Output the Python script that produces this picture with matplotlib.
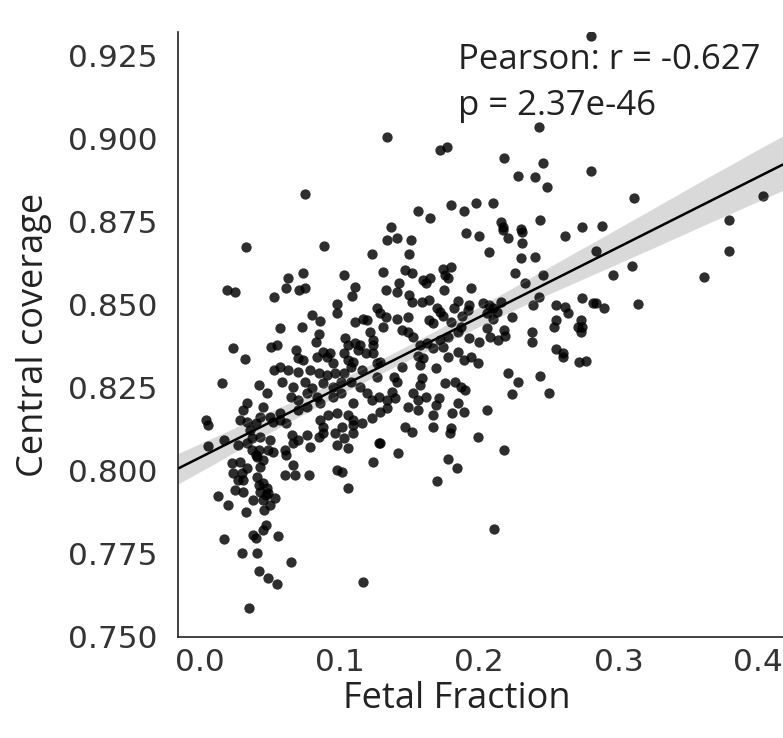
import matplotlib
matplotlib.use("Agg")
import matplotlib.pyplot as plt
import seaborn as sns
import numpy as np

# fetal fraction / central coverage pairs
fetal_fraction = [
    # low FF cloud, upper part
    0.033, 0.089, 0.123, 0.074, 0.063, 0.103, 0.019, 0.025, 0.062, 0.071,
    0.075, 0.111, 0.109, 0.053, 0.098, 0.098, 0.080, 0.086, 0.111, 0.117,
    0.120, 0.127, 0.057, 0.073, 0.085, 0.083, 0.104, 0.122, 0.124, 0.024,
    0.032, 0.051, 0.055, 0.069, 0.070, 0.074, 0.084, 0.088, 0.091, 0.093,
    0.095, 0.106, 0.111, 0.115, 0.113, 0.119, 0.124, 0.103, 0.106, 0.110,
    0.124, 0.127, 0.053, 0.057, 0.063, 0.070, 0.079, 0.085, 0.091, 0.097,
    0.103, 0.108, 0.116, 0.127, 0.016, 0.042, 0.048, 0.059, 0.067, 0.075,
    0.080, 0.088, 0.095, 0.101, 0.108, 0.115, 0.065, 0.070, 0.077, 0.084,
    0.086, 0.095, 0.101, 0.110, 0.120, 0.123, 0.128, 0.034, 0.031, 0.045,
    0.043, 0.050, 0.057, 0.070, 0.077, 0.092, 0.098, 0.106, 0.110, 0.116,
    0.123, 0.004, 0.006, 0.029, 0.034, 0.040, 0.052, 0.057, 0.062, 0.086,
    0.088, 0.102, 0.110,
    # middle FF
    0.191, 0.200, 0.217, 0.221, 0.231, 0.231, 0.262, 0.134, 0.141, 0.151,
    0.207, 0.150, 0.230, 0.240, 0.131, 0.147, 0.152, 0.174, 0.180, 0.176,
    0.178, 0.160, 0.165, 0.162, 0.226, 0.246, 0.233, 0.133, 0.141, 0.143,
    0.150, 0.152, 0.159, 0.164, 0.170, 0.172, 0.175, 0.194, 0.243, 0.239,
    0.185, 0.182, 0.192, 0.193, 0.203, 0.207, 0.210, 0.216, 0.255, 0.262,
    0.264, 0.129, 0.133, 0.131, 0.141, 0.149, 0.164, 0.174, 0.167, 0.188,
    0.187, 0.180, 0.206, 0.213, 0.210, 0.224, 0.255, 0.254, 0.145, 0.149,
    0.153, 0.158, 0.163, 0.172, 0.178, 0.185, 0.193, 0.200, 0.206, 0.208,
    0.218, 0.219, 0.214, 0.238, 0.238, 0.271, 0.156, 0.160, 0.167, 0.174,
    0.178, 0.185, 0.189, 0.194, 0.199, 0.255, 0.260, 0.260, 0.272, 0.129,
    0.145, 0.158, 0.169, 0.221, 0.228, 0.244, 0.139, 0.141, 0.138, 0.140,
    0.134, 0.159, 0.158, 0.153, 0.156, 0.162, 0.176, 0.183, 0.187, 0.190,
    0.185, 0.224, 0.250, 0.149, 0.156, 0.169, 0.171, 0.167, 0.181, 0.189,
    0.206, 0.129, 0.134, 0.147, 0.167, 0.180,
    # high FF
    0.280, 0.311, 0.404, 0.379, 0.274, 0.288, 0.284, 0.379, 0.310, 0.296,
    0.361, 0.274, 0.282, 0.284, 0.290, 0.314, 0.273, 0.274, 0.273, 0.277,
    # low FF cloud, lower part
    0.006, 0.017, 0.027, 0.034, 0.037, 0.036, 0.043, 0.050, 0.049, 0.052,
    0.042, 0.041, 0.045, 0.043, 0.037, 0.040, 0.023, 0.029, 0.034, 0.024,
    0.027, 0.030, 0.031, 0.025, 0.031, 0.041, 0.042, 0.045, 0.048, 0.049,
    0.043, 0.047, 0.038, 0.045, 0.054, 0.013, 0.020, 0.033, 0.046, 0.050,
    0.061, 0.062, 0.067, 0.070, 0.066, 0.077, 0.079, 0.085, 0.088, 0.067,
    0.061, 0.068, 0.078, 0.097, 0.098, 0.103, 0.106, 0.110, 0.098, 0.102,
    0.106, 0.124, 0.128, 0.047, 0.045, 0.038, 0.040, 0.056, 0.017, 0.030,
    0.041, 0.065, 0.042, 0.049, 0.055, 0.035, 0.117,
    # middle FF, lower part
    0.129, 0.142, 0.152, 0.179, 0.199, 0.218, 0.178, 0.184, 0.170, 0.211,
    # upper band
    0.243, 0.134, 0.172, 0.177, 0.218, 0.246, 0.228, 0.240, 0.249, 0.156,
    0.165, 0.180, 0.189, 0.198, 0.210, 0.216, 0.217, 0.230, 0.244, 0.137,
    0.075, 0.280,
]

central_coverage = [
    0.8675, 0.8678, 0.8654, 0.8596, 0.8581, 0.8590, 0.8545, 0.8539, 0.8551, 0.8545,
    0.8551, 0.8554, 0.8527, 0.8524, 0.8503, 0.8476, 0.8470, 0.8452, 0.8449, 0.8458,
    0.8455, 0.8491, 0.8431, 0.8434, 0.8413, 0.8389, 0.8401, 0.8419, 0.8395, 0.8370,
    0.8337, 0.8373, 0.8380, 0.8364, 0.8340, 0.8334, 0.8343, 0.8358, 0.8343, 0.8355,
    0.8325, 0.8380, 0.8386, 0.8380, 0.8364, 0.8355, 0.8355, 0.8355, 0.8334, 0.8328,
    0.8380, 0.8325, 0.8304, 0.8313, 0.8304, 0.8298, 0.8304, 0.8295, 0.8289, 0.8295,
    0.8295, 0.8313, 0.8304, 0.8283, 0.8265, 0.8259, 0.8235, 0.8268, 0.8253, 0.8268,
    0.8250, 0.8265, 0.8253, 0.8268, 0.8268, 0.8253, 0.8223, 0.8214, 0.8235, 0.8223,
    0.8205, 0.8223, 0.8235, 0.8205, 0.8235, 0.8214, 0.8223, 0.8205, 0.8184, 0.8193,
    0.8163, 0.8163, 0.8175, 0.8184, 0.8193, 0.8169, 0.8175, 0.8169, 0.8154, 0.8145,
    0.8160, 0.8154, 0.8139, 0.8154, 0.8148, 0.8145, 0.8148, 0.8154, 0.8145, 0.8154,
    0.8133, 0.8133, 0.8139,
    0.8717, 0.8708, 0.8726, 0.8702, 0.8720, 0.8687, 0.8708, 0.8696, 0.8702, 0.8696,
    0.8660, 0.8654, 0.8642, 0.8645, 0.8599, 0.8605, 0.8596, 0.8608, 0.8614, 0.8590,
    0.8581, 0.8575, 0.8581, 0.8566, 0.8596, 0.8590, 0.8566, 0.8545, 0.8539, 0.8566,
    0.8530, 0.8509, 0.8509, 0.8515, 0.8491, 0.8479, 0.8545, 0.8551, 0.8524, 0.8500,
    0.8512, 0.8491, 0.8485, 0.8500, 0.8506, 0.8500, 0.8491, 0.8509, 0.8500, 0.8494,
    0.8476, 0.8476, 0.8464, 0.8434, 0.8458, 0.8464, 0.8455, 0.8467, 0.8446, 0.8467,
    0.8434, 0.8449, 0.8476, 0.8479, 0.8458, 0.8464, 0.8455, 0.8434, 0.8425, 0.8419,
    0.8404, 0.8380, 0.8386, 0.8395, 0.8404, 0.8419, 0.8401, 0.8389, 0.8431, 0.8404,
    0.8425, 0.8407, 0.8395, 0.8419, 0.8389, 0.8434, 0.8346, 0.8340, 0.8370, 0.8373,
    0.8343, 0.8358, 0.8334, 0.8343, 0.8325, 0.8367, 0.8355, 0.8343, 0.8328, 0.8328,
    0.8313, 0.8319, 0.8310, 0.8295, 0.8268, 0.8286, 0.8283, 0.8268, 0.8238, 0.8220,
    0.8214, 0.8280, 0.8259, 0.8235, 0.8214, 0.8223, 0.8265, 0.8268, 0.8253, 0.8244,
    0.8205, 0.8232, 0.8235, 0.8193, 0.8184, 0.8199, 0.8220, 0.8169, 0.8175, 0.8178,
    0.8184, 0.8178, 0.8190, 0.8133, 0.8133, 0.8130,
    0.8904, 0.8822, 0.8828, 0.8756, 0.8735, 0.8738, 0.8663, 0.8663, 0.8617, 0.8590,
    0.8584, 0.8521, 0.8506, 0.8506, 0.8491, 0.8503, 0.8455, 0.8434, 0.8419, 0.8331,
    0.8075, 0.8093, 0.8078, 0.8084, 0.8099, 0.8123, 0.8102, 0.8093, 0.8063, 0.8057,
    0.8063, 0.8042, 0.8033, 0.8012, 0.8063, 0.8048, 0.8024, 0.8027, 0.8009, 0.7994,
    0.7973, 0.7994, 0.7973, 0.7943, 0.7937, 0.7982, 0.7958, 0.7964, 0.7949, 0.7934,
    0.7937, 0.7928, 0.7913, 0.7913, 0.7919, 0.7925, 0.7898, 0.7877, 0.7883, 0.7898,
    0.8063, 0.8048, 0.8084, 0.8093, 0.8108, 0.8108, 0.8072, 0.8102, 0.8114, 0.8018,
    0.7988, 0.7988, 0.7988, 0.8114, 0.8078, 0.8099, 0.8069, 0.8114, 0.8003, 0.7997,
    0.7949, 0.8027, 0.8084, 0.7837, 0.7822, 0.7807, 0.7798, 0.7804, 0.7795, 0.7753,
    0.7753, 0.7726, 0.7699, 0.7678, 0.7660, 0.7587, 0.7666,
    0.8084, 0.8054, 0.8117, 0.8114, 0.8102, 0.8063, 0.8036, 0.8009, 0.7970, 0.7825,
    0.9036, 0.9006, 0.8967, 0.8976, 0.8943, 0.8928, 0.8889, 0.8886, 0.8855, 0.8783,
    0.8762, 0.8801, 0.8783, 0.8807, 0.8807, 0.8750, 0.8735, 0.8729, 0.8756, 0.8735,
    0.8834, 0.9310,
]

tick_labels_x = ["0.0", "0.1", "0.2", "0.3", "0.4"]
ticks_x = [0.0, 0.1, 0.2, 0.3, 0.4]
ticks_y = [0.750, 0.775, 0.800, 0.825, 0.850, 0.875, 0.900, 0.925]
stat_text = "Pearson: r = -0.627\np = 2.37e-46"

sns.set_style("white")
plt.rcParams["font.family"] = ["Open Sans", "DejaVu Sans"]

fig = plt.figure(figsize=(7.83, 7.38), dpi=100)
ax = fig.add_axes([0.2273, 0.1369, 0.7727, 0.8197])

sns.regplot(x=np.array(fetal_fraction), y=np.array(central_coverage), ax=ax,
            color="black", truncate=False,
            scatter_kws={"s": 55, "alpha": 0.82, "linewidths": 0},
            line_kws={"linewidth": 1.8})

ax.set_xlim(-0.0158, 0.418)
ax.set_ylim(0.750, 0.9322)
ax.set_xticks(ticks_x)
ax.set_xticklabels(tick_labels_x)
ax.set_yticks(ticks_y)
ax.set_yticklabels([f"{t:.3f}" for t in ticks_y])
for lab in ax.get_xticklabels() + ax.get_yticklabels():
    lab.set_fontfamily("DejaVu Sans")
    lab.set_fontsize(22.5)
    lab.set_color("#333333")
ax.tick_params(axis="x", length=0, pad=8)
ax.tick_params(axis="y", length=0, pad=15)

ax.set_xlabel("Fetal Fraction", fontsize=26, color="#222222")
ax.set_ylabel("Central coverage", fontsize=26, color="#222222")
ax.xaxis.set_label_coords(0.461, -0.072)
ax.yaxis.set_label_coords(-0.208, 0.5)

for side in ["top", "right"]:
    ax.spines[side].set_visible(False)
for side in ["left", "bottom"]:
    ax.spines[side].set_color("#222222")
    ax.spines[side].set_linewidth(1.2)

ax.text(0.463, 0.982, stat_text, transform=ax.transAxes, ha="left", va="top",
        fontsize=25, color="#222222", linespacing=1.45)

fig.savefig("out.png", dpi=100)
